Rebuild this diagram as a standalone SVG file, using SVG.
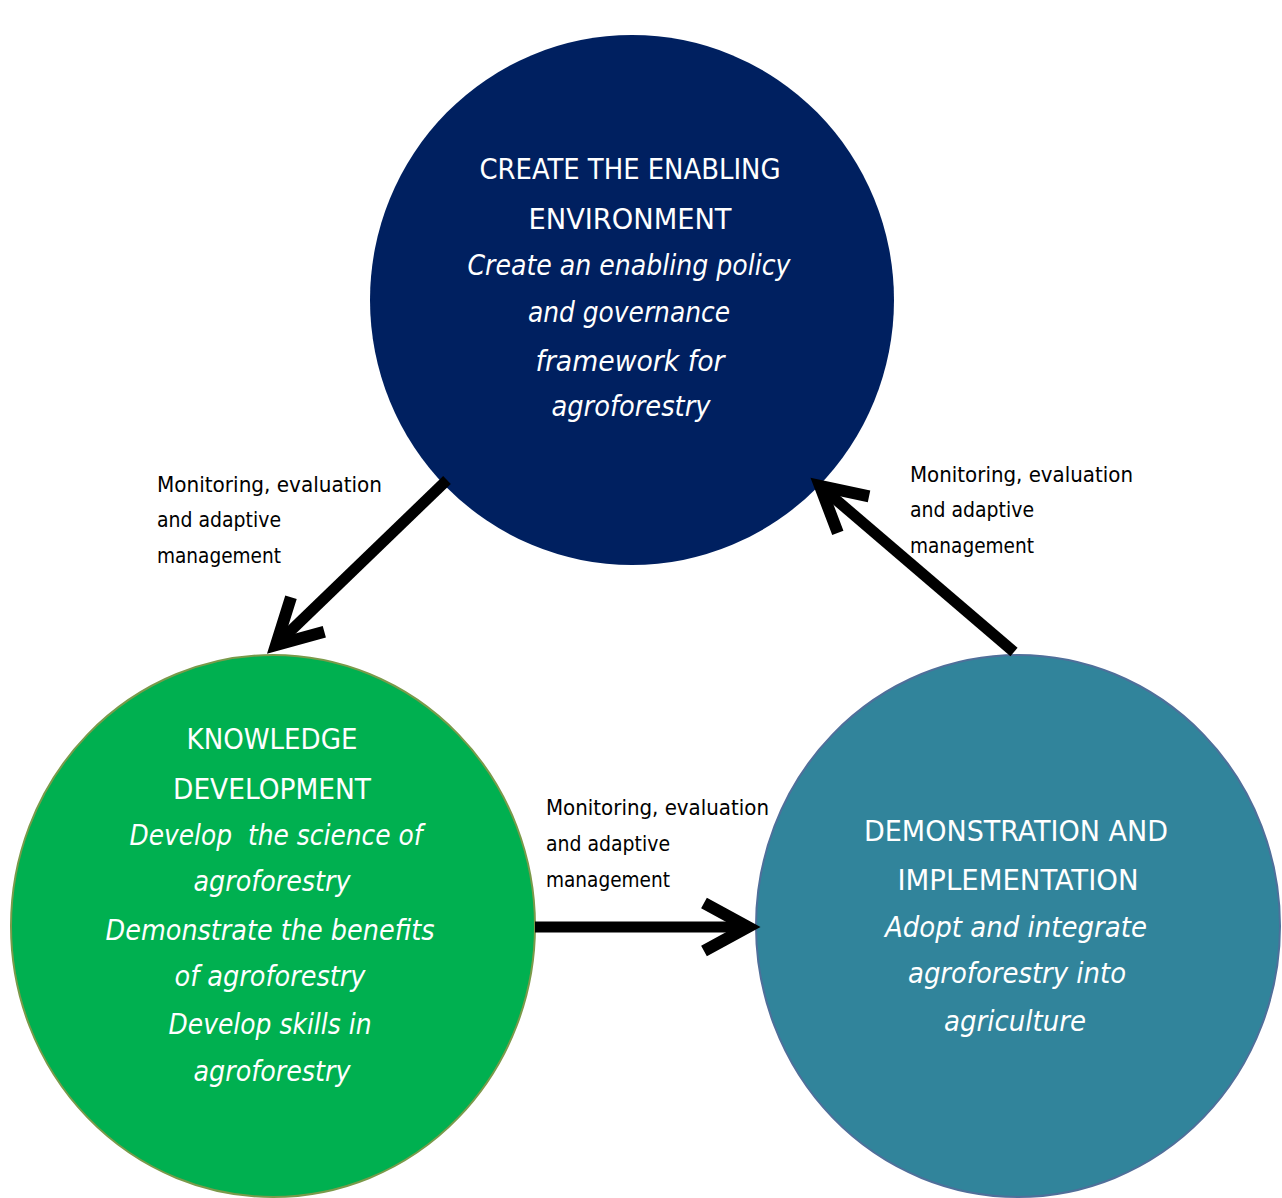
<svg xmlns="http://www.w3.org/2000/svg" width="1282" height="1198" viewBox="0 0 1282 1198">
<defs>
<style>
.t{font-family:"Liberation Sans Narrow","DejaVu Sans Condensed","Liberation Sans",sans-serif;fill:#ffffff;text-anchor:middle;font-size:29px}
.i{font-style:italic}
.lbl{font-family:"Liberation Sans Narrow","DejaVu Sans Condensed","Liberation Sans",sans-serif;fill:#000000;font-size:21px}
.conn{stroke:#000000;stroke-width:11;fill:none;marker-end:url(#chev)}
</style>
<marker id="chev" markerUnits="userSpaceOnUse" markerWidth="120" markerHeight="120" refX="0" refY="0" orient="auto" overflow="visible" viewBox="-60 -60 120 120">
<path d="M-44,-24 L0,0 L-44,24" fill="none" stroke="#000000" stroke-width="12" stroke-linejoin="miter"/>
</marker>
</defs>
<rect width="1282" height="1198" fill="#ffffff"/>

<g id="node-enabling">
<ellipse cx="632" cy="300" rx="262" ry="265" fill="#002060"/>
<text class="t" x="630" y="179" textLength="301" lengthAdjust="spacingAndGlyphs">CREATE THE ENABLING</text>
<text class="t" x="630" y="229" textLength="203" lengthAdjust="spacingAndGlyphs">ENVIRONMENT</text>
<text class="t i" x="629" y="275" textLength="323" lengthAdjust="spacingAndGlyphs">Create an enabling policy</text>
<text class="t i" x="629" y="322" textLength="202" lengthAdjust="spacingAndGlyphs">and governance</text>
<text class="t i" x="630" y="371" textLength="189" lengthAdjust="spacingAndGlyphs">framework for</text>
<text class="t i" x="631" y="416" textLength="159" lengthAdjust="spacingAndGlyphs">agroforestry</text>
</g>

<g id="node-knowledge">
<ellipse cx="273" cy="926" rx="262" ry="271" fill="#00B050" stroke="#7A9A4A" stroke-width="2"/>
<text class="t" x="272" y="749" textLength="171" lengthAdjust="spacingAndGlyphs">KNOWLEDGE</text>
<text class="t" x="272" y="799" textLength="198" lengthAdjust="spacingAndGlyphs">DEVELOPMENT</text>
<text class="t i" x="276" y="845" textLength="293" lengthAdjust="spacingAndGlyphs" xml:space="preserve">Develop  the science of</text>
<text class="t i" x="272" y="891" textLength="157" lengthAdjust="spacingAndGlyphs">agroforestry</text>
<text class="t i" x="270" y="940" textLength="329" lengthAdjust="spacingAndGlyphs">Demonstrate the benefits</text>
<text class="t i" x="270" y="986" textLength="191" lengthAdjust="spacingAndGlyphs">of agroforestry</text>
<text class="t i" x="270" y="1034" textLength="203" lengthAdjust="spacingAndGlyphs">Develop skills in</text>
<text class="t i" x="272" y="1081" textLength="157" lengthAdjust="spacingAndGlyphs">agroforestry</text>
</g>

<g id="node-demonstration">
<ellipse cx="1018" cy="926" rx="262" ry="271" fill="#31849B" stroke="#4F6F9A" stroke-width="2"/>
<text class="t" x="1016" y="841" textLength="304" lengthAdjust="spacingAndGlyphs">DEMONSTRATION AND</text>
<text class="t" x="1018" y="890" textLength="241" lengthAdjust="spacingAndGlyphs">IMPLEMENTATION</text>
<text class="t i" x="1016" y="937" textLength="262" lengthAdjust="spacingAndGlyphs">Adopt and integrate</text>
<text class="t i" x="1017" y="983" textLength="218" lengthAdjust="spacingAndGlyphs">agroforestry into</text>
<text class="t i" x="1015" y="1031" textLength="142" lengthAdjust="spacingAndGlyphs">agriculture</text>
</g>

<g id="connectors">
<line class="conn" x1="447" y1="480" x2="276" y2="645"/>
<line class="conn" x1="1014" y1="652" x2="820" y2="486"/>
<line class="conn" x1="535" y1="927" x2="748" y2="927" stroke-width="13"/>
<g id="labels">
<text class="lbl" x="157" y="492" textLength="225" lengthAdjust="spacingAndGlyphs">Monitoring, evaluation</text>
<text class="lbl" x="157" y="527" textLength="124" lengthAdjust="spacingAndGlyphs">and adaptive</text>
<text class="lbl" x="157" y="563" textLength="124" lengthAdjust="spacingAndGlyphs">management</text>
<text class="lbl" x="910" y="482" textLength="223" lengthAdjust="spacingAndGlyphs">Monitoring, evaluation</text>
<text class="lbl" x="910" y="517" textLength="124" lengthAdjust="spacingAndGlyphs">and adaptive</text>
<text class="lbl" x="910" y="553" textLength="124" lengthAdjust="spacingAndGlyphs">management</text>
<text class="lbl" x="546" y="815" textLength="223" lengthAdjust="spacingAndGlyphs">Monitoring, evaluation</text>
<text class="lbl" x="546" y="851" textLength="124" lengthAdjust="spacingAndGlyphs">and adaptive</text>
<text class="lbl" x="546" y="887" textLength="124" lengthAdjust="spacingAndGlyphs">management</text>
</g>
</g>
</svg>
